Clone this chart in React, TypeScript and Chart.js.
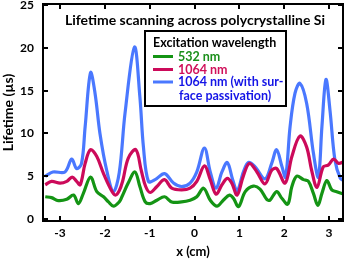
import React, { useEffect, useRef } from "react";
import { Chart, registerables } from "chart.js";

Chart.register(...registerables);

const chartTitle = "Lifetime scanning across polycrystalline Si";
const legendTitle = "Excitation wavelength";
const xAxisTitle = "x (cm)";
const yAxisTitle = "Lifetime (µs)";

const seriesNames = ["532 nm", "1064 nm", "1064 nm (with sur-|face passivation)"];

const greenX = [-3.33, -3.19, -3.04, -2.85, -2.7, -2.59, -2.48, -2.32, -2.18, -2.03, -1.92, -1.81, -1.68, -1.62, -1.48, -1.33, -1.22, -1.1, -0.99, -0.84, -0.67, -0.51, -0.29, -0.1, 0.05, 0.2, 0.35, 0.5, 0.64, 0.78, 0.87, 0.98, 1.13, 1.31, 1.46, 1.61, 1.68, 1.83, 1.95, 2.08, 2.17, 2.28, 2.43, 2.54, 2.65, 2.75, 2.84, 2.95, 3.06, 3.17, 3.33];
const greenY = [2.6, 2.5, 2.15, 2.3, 2.8, 1.8, 3.0, 4.9, 3.2, 2.6, 2.0, 1.5, 2.0, 2.6, 4.2, 5.5, 3.8, 2.0, 1.8, 2.2, 2.6, 2.0, 2.0, 2.2, 2.6, 3.6, 2.2, 1.5, 2.2, 2.8, 2.4, 1.45, 3.2, 3.85, 3.5, 2.3, 2.2, 3.2, 2.4, 1.75, 3.8, 5.0, 4.6, 4.4, 3.0, 1.6, 3.0, 4.5, 3.4, 3.2, 2.9];

const redX = [-3.33, -3.19, -3.0, -2.85, -2.73, -2.63, -2.55, -2.44, -2.32, -2.18, -2.03, -1.88, -1.77, -1.68, -1.6, -1.48, -1.31, -1.19, -1.09, -0.99, -0.84, -0.67, -0.51, -0.29, -0.1, 0.05, 0.22, 0.35, 0.48, 0.61, 0.73, 0.83, 0.95, 1.08, 1.22, 1.39, 1.57, 1.72, 1.83, 2.02, 2.17, 2.35, 2.5, 2.61, 2.73, 2.87, 2.98, 3.1, 3.21, 3.33];
const redY = [4.0, 4.4, 4.2, 4.4, 4.9, 4.4, 4.0, 6.5, 8.1, 7.3, 5.3, 3.6, 2.8, 3.3, 4.5, 7.1, 8.1, 5.7, 3.8, 3.1, 3.8, 4.6, 3.6, 3.4, 3.6, 4.4, 6.2, 4.6, 2.9, 4.0, 4.75, 4.2, 2.8, 4.9, 6.5, 5.5, 4.1, 5.7, 5.9, 4.2, 7.3, 9.7, 8.4, 5.7, 3.7, 6.1, 6.3, 7.0, 6.5, 6.7];

const blueX = [-3.33, -3.16, -2.89, -2.74, -2.63, -2.52, -2.44, -2.32, -2.22, -2.11, -1.96, -1.81, -1.68, -1.55, -1.34, -1.22, -1.14, -1.03, -0.88, -0.67, -0.47, -0.29, -0.1, 0.05, 0.22, 0.35, 0.48, 0.61, 0.73, 0.85, 0.95, 1.09, 1.2, 1.35, 1.57, 1.72, 1.83, 1.95, 2.03, 2.13, 2.24, 2.35, 2.5, 2.65, 2.76, 2.84, 2.93, 3.02, 3.13, 3.25, 3.33];
const blueY = [5.0, 5.5, 5.5, 7.0, 5.9, 6.5, 10.8, 17.1, 14.7, 10.0, 5.7, 3.2, 5.4, 12.4, 20.1, 14.3, 8.4, 4.4, 4.6, 5.3, 4.2, 3.8, 4.2, 5.5, 8.3, 5.5, 3.6, 5.5, 6.6, 4.6, 3.3, 5.5, 6.6, 6.1, 4.7, 6.5, 8.1, 6.1, 4.9, 10.8, 14.7, 15.85, 13.5, 7.7, 4.9, 10.8, 16.3, 12.7, 6.9, 4.75, 4.5];

const xTicks = [-3, -2, -1, 0, 1, 2, 3];
const yTicks = [0, 5, 10, 15, 20, 25];

const lineColors = ["#149414", "#cc0a5a", "#4a78ff"];
const textColors = ["#1a8f1a", "#d0105a", "#1414e6"];

const FONT = "Lato, 'Open Sans', 'DejaVu Sans', sans-serif";

const framePlugin = {
  id: "frame",
  afterDraw(chart: any) {
    const { ctx, chartArea: a, scales } = chart;
    const xs = scales.x;
    const ys = scales.y;
    ctx.save();
    ctx.strokeStyle = "#000";
    ctx.lineWidth = 2;
    ctx.strokeRect(a.left, a.top, a.right - a.left, a.bottom - a.top);
    const tl = 5;
    ctx.beginPath();
    xTicks.forEach((v) => {
      const px = Math.round(xs.getPixelForValue(v));
      ctx.moveTo(px, a.bottom);
      ctx.lineTo(px, a.bottom - tl);
      ctx.moveTo(px, a.top);
      ctx.lineTo(px, a.top + tl);
    });
    yTicks.forEach((v) => {
      const py = Math.round(ys.getPixelForValue(v));
      ctx.moveTo(a.left, py);
      ctx.lineTo(a.left + tl, py);
      ctx.moveTo(a.right, py);
      ctx.lineTo(a.right - tl, py);
    });
    ctx.stroke();

    // title
    ctx.fillStyle = "#000";
    ctx.font = "bold 14px " + FONT;
    ctx.textAlign = "center";
    ctx.textBaseline = "middle";
    ctx.fillText(chartTitle, 195, 20);

    // legend
    const lx = 145, ly = 31, lw = 141, lh = 75;
    ctx.fillStyle = "#fff";
    ctx.fillRect(lx, ly, lw, lh);
    ctx.strokeStyle = "#000";
    ctx.lineWidth = 2;
    ctx.strokeRect(lx, ly, lw, lh);
    ctx.fillStyle = "#000";
    ctx.textAlign = "left";
    ctx.font = "bold 12.5px " + FONT;
    ctx.fillText(legendTitle, 153, 43);
    const rows = [56.5, 69.5, 82];
    seriesNames.forEach((name, i) => {
      ctx.strokeStyle = lineColors[i];
      ctx.lineWidth = 3;
      ctx.beginPath();
      ctx.moveTo(153, rows[i]);
      ctx.lineTo(173, rows[i]);
      ctx.stroke();
      ctx.fillStyle = textColors[i];
      ctx.font = "bold 12.5px " + FONT;
      const parts = name.split("|");
      parts.forEach((p, j) => {
        ctx.fillText(p, 178 + (j > 0 ? 1 : 0), rows[i] + j * 13.5);
      });
    });
    ctx.restore();
  },
};

export default function App() {
  const ref = useRef<HTMLCanvasElement | null>(null);
  useEffect(() => {
    document.body.style.margin = "0";
    const canvas = ref.current;
    if (!canvas) return;
    const mk = (xArr: number[], yArr: number[]) => xArr.map((x, i) => ({ x, y: yArr[i] }));
    const chart = new Chart(canvas, {
      type: "line",
      data: {
        datasets: [
          { label: seriesNames[0], data: mk(greenX, greenY), borderColor: lineColors[0] },
          { label: seriesNames[1], data: mk(redX, redY), borderColor: lineColors[1] },
          { label: seriesNames[2], data: mk(blueX, blueY), borderColor: lineColors[2] },
        ].map((d) => ({ ...d, borderWidth: 3.2, pointRadius: 0, tension: 0.35, fill: false })),
      },
      options: {
        animation: false,
        responsive: false,
        layout: { padding: { top: 4, right: 7, left: 0, bottom: 0 } },
        plugins: { legend: { display: false }, tooltip: { enabled: false } },
        scales: {
          x: {
            type: "linear",
            min: -3.38,
            max: 3.31,
            afterBuildTicks: (s: any) => {
              s.ticks = xTicks.map((v) => ({ value: v }));
            },
            afterFit: (s: any) => {
              s.height = 39;
              s.paddingLeft = 0;
              s.paddingRight = 0;
            },
            grid: { display: false, drawTicks: false },
            border: { display: false },
            ticks: { color: "#000", font: { family: FONT, size: 12, weight: "bold" }, padding: 5, maxRotation: 0 },
            title: { display: true, text: xAxisTitle, color: "#000", font: { family: FONT, size: 13, weight: "bold" }, padding: { top: 0, bottom: 0 } },
          },
          y: {
            type: "linear",
            min: -0.23,
            max: 25.12,
            afterBuildTicks: (s: any) => {
              s.ticks = yTicks.map((v) => ({ value: v }));
            },
            afterFit: (s: any) => {
              s.width = 43;
              s.paddingTop = 0;
              s.paddingBottom = 0;
            },
            grid: { display: false, drawTicks: false },
            border: { display: false },
            ticks: { color: "#000", font: { family: FONT, size: 12, weight: "bold" }, padding: 9 },
            title: { display: true, text: yAxisTitle, color: "#000", font: { family: FONT, size: 14, weight: "bold" }, padding: { top: 0, bottom: 1 } },
          },
        },
      },
      plugins: [framePlugin],
    } as any);
    return () => chart.destroy();
  }, []);
  return (
    <div style={{ width: 350, height: 260 }}>
      <canvas ref={ref} width={350} height={260} style={{ display: "block" }} />
    </div>
  );
}
